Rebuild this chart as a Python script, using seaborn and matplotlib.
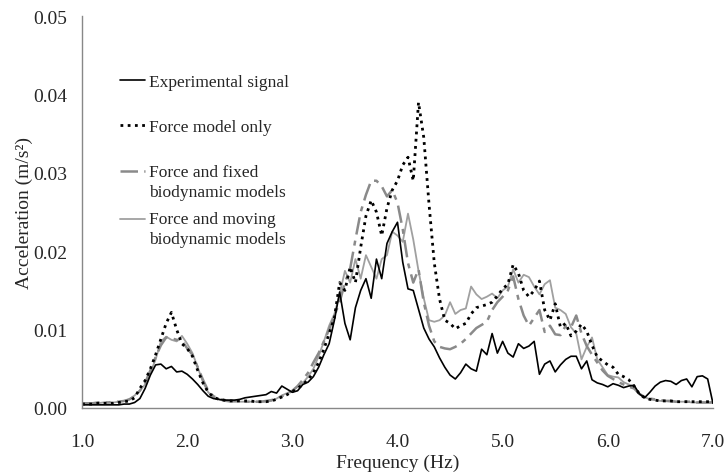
import numpy as np
import pandas as pd
import matplotlib.pyplot as plt
import seaborn as sns
from matplotlib.legend_handler import HandlerLine2D

# frequency grid (Hz), 0.05 Hz resolution
freq = np.round(np.arange(1.0, 7.0001, 0.05), 2)

# experimental signal
experimental = [
    .0004, .0004, .0004, .0004, .0004, .0004, .0004, .0004, .0005, .0005,
    .0007, .0012, .0025, .0042, .0055, .0056, .0050, .0053, .0046, .0047,
    .0043, .0037, .0030, .0022, .0015, .0012, .0011, .0010, .0010, .0010,
    .0011, .0013, .0014, .0015, .0016, .0017, .0021, .0019, .0028, .0024,
    .0020, .0022, .0030, .0033, .0040, .0052, .0068, .0082, .0112, .0148,
    .0108, .0087, .0128, .0150, .0165, .0140, .0190, .0165, .0210, .0225,
    .0237, .0186, .0152, .0150, .0126, .0102, .0088, .0078, .0064, .0052,
    .0042, .0037, .0045, .0056, .0050, .0047, .0075, .0068, .0095, .0070,
    .0085, .0070, .0065, .0082, .0076, .0079, .0085, .0043, .0056, .0060,
    .0046, .0055, .0062, .0066, .0066, .0050, .0060, .0036, .0032, .0030,
    .0027, .0031, .0029, .0026, .0028, .0029, .0018, .0013, .0020, .0028,
    .0033, .0035, .0034, .0030, .0035, .0037, .0027, .0040, .0041, .0037,
    .0006,
]

# force model only
force_only = [
    .0005, .0005, .0005, .0006, .0006, .0006, .0006, .0007, .0008, .0009,
    .0013, .0025, .0035, .0050, .0068, .0088, .0108, .0122, .0100, .0082,
    .0076, .0066, .0048, .0032, .0020, .0014, .0011, .0010, .0009, .0009,
    .0009, .0009, .0009, .0008, .0008, .0008, .0009, .0011, .0014, .0017,
    .0021, .0025, .0030, .0036, .0045, .0058, .0075, .0095, .0115, .0160,
    .0150, .0180, .0160, .0205, .0245, .0265, .0250, .0220, .0255, .0278,
    .0290, .0310, .0320, .0290, .0390, .0345, .0260, .0185, .0139, .0112,
    .0108, .0101, .0105, .0108, .0120, .0128, .0130, .0132, .0135, .0143,
    .0152, .0158, .0183, .0172, .0150, .0142, .0150, .0162, .0125, .0112,
    .0133, .0103, .0108, .0092, .0098, .0107, .0098, .0080, .0065, .0060,
    .0055, .0052, .0043, .0040, .0036, .0028, .0018, .0013, .0011, .0010,
    .0009, .0009, .0009, .0008, .0008, .0008, .0008, .0008, .0008, .0008,
    .0008,
]

# force and fixed biodynamic models
fixed_model = [
    .0006, .0006, .0006, .0007, .0007, .0007, .0008, .0008, .0009, .0011,
    .0015, .0022, .0032, .0048, .0065, .0080, .0090, .0089, .0087, .0086,
    .0076, .0068, .0052, .0036, .0022, .0015, .0012, .0010, .0009, .0009,
    .0009, .0008, .0008, .0008, .0008, .0009, .0010, .0012, .0015, .0018,
    .0022, .0028, .0036, .0045, .0058, .0070, .0085, .0100, .0118, .0135,
    .0160, .0178, .0215, .0250, .0272, .0290, .0290, .0283, .0270, .0278,
    .0262, .0228, .0185, .0160, .0177, .0135, .0105, .0085, .0078, .0076,
    .0075, .0078, .0082, .0088, .0095, .0102, .0106, .0110, .0125, .0135,
    .0142, .0150, .0168, .0139, .0118, .0105, .0115, .0125, .0097, .0105,
    .0094, .0093, .0105, .0103, .0118, .0095, .0079, .0068, .0058, .0048,
    .0041, .0037, .0033, .0030, .0027, .0025, .0018, .0014, .0012, .0011,
    .0010, .0009, .0009, .0008, .0008, .0008, .0008, .0007, .0007, .0007,
    .0007,
]

# force and moving biodynamic models
moving_model = [
    .0006, .0006, .0006, .0006, .0007, .0007, .0007, .0008, .0009, .0011,
    .0016, .0022, .0030, .0045, .0062, .0085, .0091, .0087, .0085, .0092,
    .0082, .0070, .0052, .0033, .0020, .0014, .0011, .0009, .0008, .0008,
    .0008, .0008, .0008, .0008, .0008, .0008, .0009, .0012, .0016, .0019,
    .0022, .0027, .0032, .0040, .0050, .0066, .0085, .0105, .0120, .0145,
    .0175, .0160, .0190, .0165, .0195, .0180, .0165, .0190, .0195, .0225,
    .0220, .0212, .0248, .0215, .0175, .0140, .0112, .0110, .0112, .0118,
    .0135, .0120, .0125, .0127, .0155, .0145, .0139, .0142, .0146, .0140,
    .0150, .0155, .0177, .0160, .0170, .0167, .0155, .0145, .0158, .0163,
    .0128, .0125, .0120, .0103, .0095, .0062, .0078, .0090, .0062, .0052,
    .0042, .0040, .0039, .0033, .0030, .0027, .0018, .0014, .0011, .0010,
    .0009, .0009, .0008, .0008, .0008, .0008, .0007, .0007, .0007, .0007,
    .0007,
]

labels = ["Experimental signal", "Force model only",
          "Force and fixed\nbiodynamic models", "Force and moving\nbiodynamic models"]
x_ticks = [1.0, 2.0, 3.0, 4.0, 5.0, 6.0, 7.0]
y_ticks = [0.00, 0.01, 0.02, 0.03, 0.04, 0.05]

df = pd.DataFrame({"freq": freq, "exp": experimental, "force": force_only,
                   "fixed": fixed_model, "moving": moving_model})


# legend key sits on the first line of a two-line label
class TopLineHandler(HandlerLine2D):
    def create_artists(self, legend, orig_handle, xdescent, ydescent,
                       width, height, fontsize, trans):
        arts = super().create_artists(legend, orig_handle, xdescent, ydescent,
                                      width, height, fontsize, trans)
        for a in arts:
            a.set_ydata(np.asarray(a.get_ydata()) + 7.5)
        return arts


sns.set_style("white")
plt.rcParams['font.family'] = ['Liberation Serif', 'DejaVu Serif']

fig = plt.figure(figsize=(7.26, 4.77), dpi=100)
ax = fig.add_axes([0.113, 0.1426, 0.869, 0.8214])

sns.lineplot(data=df, x="freq", y="moving", ax=ax, color="#a0a0a0", lw=1.3,
             label=labels[3], errorbar=None)
sns.lineplot(data=df, x="freq", y="fixed", ax=ax, color="#8a8a8a", lw=1.8,
             linestyle=(0, (7, 2.5, 2, 2.5)), label=labels[2], errorbar=None)
sns.lineplot(data=df, x="freq", y="force", ax=ax, color="black", lw=2.0,
             linestyle=(0, (1, 1.6)), label=labels[1], errorbar=None)
sns.lineplot(data=df, x="freq", y="exp", ax=ax, color="black", lw=1.2,
             label=labels[0], errorbar=None)

ax.set_xlim(1.0, 7.0)
ax.set_ylim(0.0, 0.05)
ax.set_xticks(x_ticks)
ax.set_xticklabels([f"{t:.1f}" for t in x_ticks])
ax.set_yticks(y_ticks)
ax.set_yticklabels([f"{t:.2f}" for t in y_ticks])
ax.tick_params(axis="both", labelsize=14, length=4.3, width=1, color="#888888",
               direction="out", pad=6.5)
ax.tick_params(axis="x", pad=13.5)
ax.set_xlabel("Frequency (Hz)", fontsize=14, labelpad=3)
ax.set_ylabel("Acceleration (m/s²)", fontsize=14, labelpad=0)

sns.despine(ax=ax)
for s in ["left", "bottom"]:
    ax.spines[s].set_color("#888888")
    ax.spines[s].set_linewidth(1)

handles, lbls = ax.get_legend_handles_labels()
hmap = {handles[1]: TopLineHandler(), handles[0]: TopLineHandler()}
common = dict(loc="upper left", frameon=False, fontsize=12.5, handlelength=1.45,
              handletextpad=0.25, borderpad=0, borderaxespad=0, handler_map=hmap)
leg1 = ax.legend([handles[3], handles[2], handles[1]], [lbls[3], lbls[2], lbls[1]],
                 bbox_to_anchor=(0.060, 0.852), labelspacing=1.65, **common)
for t in leg1.get_texts():
    t.set_linespacing(1.35)
ax.add_artist(leg1)
leg2 = ax.legend([handles[0]], [lbls[0]], bbox_to_anchor=(0.060, 0.503), **common)
for t in leg2.get_texts():
    t.set_linespacing(1.35)

fig.savefig("out.png", dpi=100)
